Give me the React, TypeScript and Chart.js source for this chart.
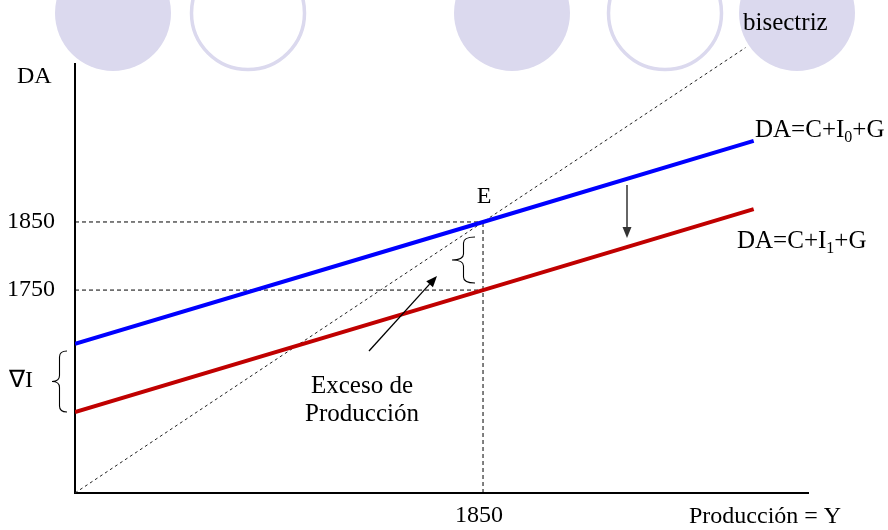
import React, { useEffect, useRef } from "react";
import { Chart, registerables } from "chart.js";

Chart.register(...registerables);

// ---- data ----
const productionX = [1452, 1850, 2114];
const demandI0 = [1671, 1850, 1969];
const demandI1 = [1571, 1750, 1869];
const bisectorX = [1452, 2106];
const equilibrium = 1850;
const lowerDemand = 1750;
const yTickValues = [1750, 1850];
const xTickValues = [1850];
const axisMin = 1452;
const xMax = 2167;
const yMax = 2082;

const SERIF = "'Liberation Serif', 'Times New Roman', serif";
const CIRCLE = "#dbd9ee";

function brace(ctx: CanvasRenderingContext2D, xTip: number, xEnd: number, y1: number, y2: number) {
  const mid = (y1 + y2) / 2;
  const xm = (xTip + xEnd) / 2;
  const r = Math.min(6, (y2 - y1) / 6);
  ctx.beginPath();
  ctx.moveTo(xEnd, y1);
  ctx.quadraticCurveTo(xm, y1, xm, y1 + r);
  ctx.lineTo(xm, mid - r);
  ctx.quadraticCurveTo(xm, mid, xTip, mid);
  ctx.quadraticCurveTo(xm, mid, xm, mid + r);
  ctx.lineTo(xm, y2 - r);
  ctx.quadraticCurveTo(xm, y2, xEnd, y2);
  ctx.stroke();
}

function arrow(ctx: CanvasRenderingContext2D, x1: number, y1: number, x2: number, y2: number, color: string, lw: number) {
  const ang = Math.atan2(y2 - y1, x2 - x1);
  const hl = 11;
  const hw = 4.5;
  const bx = x2 - hl * Math.cos(ang);
  const by = y2 - hl * Math.sin(ang);
  ctx.strokeStyle = color;
  ctx.fillStyle = color;
  ctx.lineWidth = lw;
  ctx.beginPath();
  ctx.moveTo(x1, y1);
  ctx.lineTo(bx, by);
  ctx.stroke();
  ctx.beginPath();
  ctx.moveTo(x2, y2);
  ctx.lineTo(bx + hw * Math.sin(ang), by - hw * Math.cos(ang));
  ctx.lineTo(bx - hw * Math.sin(ang), by + hw * Math.cos(ang));
  ctx.closePath();
  ctx.fill();
}

function subText(ctx: CanvasRenderingContext2D, x: number, y: number, pre: string, sub: string, post: string) {
  ctx.font = `25px ${SERIF}`;
  ctx.textAlign = "left";
  ctx.textBaseline = "alphabetic";
  ctx.fillText(pre, x, y);
  let cx = x + ctx.measureText(pre).width;
  ctx.font = `16px ${SERIF}`;
  ctx.fillText(sub, cx, y + 5);
  cx += ctx.measureText(sub).width;
  ctx.font = `25px ${SERIF}`;
  ctx.fillText(post, cx, y);
}

const decorPlugin = {
  id: "decor",
  beforeDraw(chart: any) {
    const ctx: CanvasRenderingContext2D = chart.ctx;
    ctx.save();
    const circles = [
      { x: 113, fill: true },
      { x: 248, fill: false },
      { x: 512, fill: true },
      { x: 665, fill: false },
      { x: 797, fill: true },
    ];
    for (const c of circles) {
      ctx.beginPath();
      if (c.fill) {
        ctx.arc(c.x, 13, 58, 0, Math.PI * 2);
        ctx.fillStyle = CIRCLE;
        ctx.fill();
      } else {
        ctx.arc(c.x, 13, 56.5, 0, Math.PI * 2);
        ctx.strokeStyle = CIRCLE;
        ctx.lineWidth = 3.5;
        ctx.stroke();
      }
    }
    ctx.restore();
  },
  afterDatasetsDraw(chart: any) {
    const ctx: CanvasRenderingContext2D = chart.ctx;
    const xs = chart.scales.x;
    const ys = chart.scales.y;
    ctx.save();
    ctx.fillStyle = "#000";
    ctx.font = `24px ${SERIF}`;
    ctx.textBaseline = "alphabetic";
    ctx.textAlign = "left";
    ctx.fillText("DA", 17, 83);
    ctx.fillText("\u2207I", 9, 387);
    ctx.font = `25px ${SERIF}`;
    ctx.fillText("bisectriz", 743, 30);
    ctx.font = `24px ${SERIF}`;
    ctx.fillText("Producci\u00f3n = Y", 689, 523);
    ctx.textAlign = "center";
    const ex = xs.getPixelForValue(equilibrium);
    const ey = ys.getPixelForValue(equilibrium);
    ctx.fillText("E", ex + 1, ey - 19);
    ctx.font = `25px ${SERIF}`;
    ctx.fillText("Exceso de", 362, 393);
    ctx.fillText("Producci\u00f3n", 362, 421);
    subText(ctx, 755, 137, "DA=C+I", "0", "+G");
    subText(ctx, 737, 248, "DA=C+I", "1", "+G");

    // braces
    ctx.strokeStyle = "#000";
    ctx.lineWidth = 1.1;
    brace(ctx, 52, 67, 351, 412);
    brace(ctx, 452, 475, 237, 283);

    // arrows
    arrow(ctx, 369, 351, 437, 276, "#000", 1.3);
    arrow(ctx, 627, 185, 627, 238, "#333", 1.5);
    ctx.restore();
  },
};

export default function App() {
  const ref = useRef<HTMLCanvasElement>(null);
  useEffect(() => {
    if (!ref.current) return;
    const pts = (xArr: number[], yArr: number[]) => xArr.map((x, i) => ({ x, y: yArr[i] }));
    const dashed = {
      borderColor: "#000",
      borderWidth: 1,
      borderDash: [4, 3],
      pointRadius: 0,
      showLine: true,
      order: 5,
    };
    const chart = new Chart(ref.current, {
      type: "scatter",
      data: {
        datasets: [
          { ...dashed, borderColor: "#222", borderDash: [3, 3], label: "bisectriz", data: pts(bisectorX, bisectorX), clip: false as any },
          { ...dashed, label: "h1850", data: [{ x: axisMin, y: equilibrium }, { x: equilibrium, y: equilibrium }] },
          { ...dashed, label: "h1750", data: [{ x: axisMin, y: lowerDemand }, { x: equilibrium, y: lowerDemand }] },
          { ...dashed, label: "v1850", data: [{ x: equilibrium, y: axisMin }, { x: equilibrium, y: equilibrium }] },
          {
            label: "DA=C+I0+G",
            data: pts(productionX, demandI0),
            showLine: true,
            borderColor: "#0000ff",
            borderWidth: 4,
            pointRadius: 0,
            order: 1,
          },
          {
            label: "DA=C+I1+G",
            data: pts(productionX, demandI1),
            showLine: true,
            borderColor: "#c00000",
            borderWidth: 4,
            pointRadius: 0,
            order: 2,
          },
        ],
      },
      options: {
        responsive: false,
        animation: false,
        layout: { padding: { top: 64, right: 80, left: 0, bottom: 0 } },
        plugins: { legend: { display: false }, tooltip: { enabled: false } },
        scales: {
          x: {
            type: "linear",
            min: axisMin,
            max: xMax,
            afterFit: (s: any) => {
              s.height = 37;
            },
            afterBuildTicks: (s: any) => {
              s.ticks = xTickValues.map((v) => ({ value: v }));
            },
            ticks: {
              font: { family: SERIF, size: 24 },
              color: "#000",
              padding: 8,
              labelOffset: -4,
              maxRotation: 0,
              autoSkip: false,
              callback: (v: any) => String(v),
            },
            grid: { display: false, drawTicks: false },
            border: { display: true, color: "#000", width: 2 },
          },
          y: {
            type: "linear",
            min: axisMin,
            max: yMax,
            afterFit: (s: any) => {
              s.width = 75;
            },
            afterBuildTicks: (s: any) => {
              s.ticks = yTickValues.map((v) => ({ value: v }));
            },
            ticks: {
              font: { family: SERIF, size: 24 },
              color: "#000",
              padding: 20,
              autoSkip: false,
              callback: (v: any) => String(v),
            },
            grid: { display: false, drawTicks: false },
            border: { display: true, color: "#000", width: 2 },
          },
        },
      },
      plugins: [decorPlugin],
    });
    return () => chart.destroy();
  }, []);
  return (
    <div style={{ position: "absolute", left: 0, top: 0, width: 888, height: 530, background: "#fff" }}>
      <canvas ref={ref} width={888} height={530} style={{ display: "block" }} />
    </div>
  );
}
